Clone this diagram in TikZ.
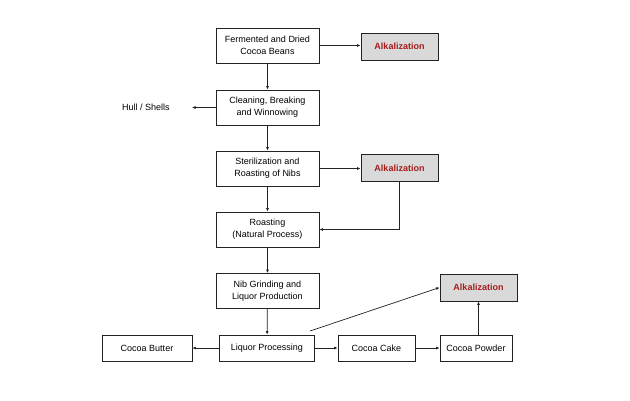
\documentclass[tikz,border=0pt]{standalone}
\usepackage{fontspec}
\setmainfont{Liberation Sans}
\usetikzlibrary{arrows.meta}
\definecolor{alkred}{HTML}{A61C1C}
\definecolor{alkfill}{HTML}{D9D9D9}
\definecolor{linec}{HTML}{222222}
\begin{document}
\begin{tikzpicture}[x=1pt,y=-1pt,
  every node/.style={font=\fontsize{9}{12}\selectfont, align=center, inner sep=0pt},
  proc/.style={draw=linec, line width=0.8pt, fill=white, minimum width=103pt, minimum height=35pt},
  proclow/.style={draw=linec, line width=0.8pt, fill=white, minimum height=26pt},
  alk/.style={draw=linec, line width=0.8pt, fill=alkfill, minimum width=77pt, minimum height=27pt, font=\fontsize{9}{12}\selectfont\bfseries, text=alkred},
  conn/.style={draw=linec, line width=0.7pt, -{Latex[length=3.5pt,width=3pt]}}
]
\useasboundingbox (0,0) rectangle (630,400);
\node[proc] (beans) at (267.5,45.5) {Fermented and Dried\\Cocoa Beans};
\node[alk] (alk1) at (399.5,46.5) {Alkalization};
\node[proc] (clean) at (267.5,107.5) {Cleaning, Breaking\\and Winnowing};
\node (hull) at (146,107.5) {Hull / Shells};
\coordinate (hullend) at (192,107.5);
\node[proc] (ster) at (267.5,168.5) {Sterilization and\\Roasting of Nibs};
\node[alk] (alk2) at (399.5,168) {Alkalization};
\node[proc] (roast) at (267.5,229.5) {Roasting\\(Natural Process)};
\node[proc] (nib) at (267.5,291) {Nib Grinding and\\Liquor Production};
\node[proclow, minimum width=95pt] (liq) at (267,348) {Liquor Processing};
\node[proclow, minimum width=90pt] (butter) at (147,348) {Cocoa Butter};
\node[proclow, minimum width=77pt] (cake) at (376.5,348) {Cocoa Cake};
\node[proclow, minimum width=72pt] (powder) at (476,348) {Cocoa Powder};
\node[alk] (alk3) at (478.5,287.5) {Alkalization};
\coordinate (diagstart) at (310,331);

\draw[conn] (beans.east) -- (beans.east -| alk1.west);
\draw[conn] (beans) -- (clean);
\draw[conn] (clean) -- (hullend);
\draw[conn] (clean) -- (ster);
\draw[conn] (ster.east) -- (ster.east -| alk2.west);
\draw[conn] (ster) -- (roast);
\draw[conn] (alk2.south) |- (roast.east);
\draw[conn] (roast) -- (nib);
\draw[conn] (nib) -- (liq);
\draw[conn] (liq) -- (butter);
\draw[conn] (liq) -- (cake);
\draw[conn] (cake) -- (powder);
\draw[conn] (diagstart) -- (alk3.west);
\draw[conn] (powder.north -| alk3.south) -- (alk3.south);
\end{tikzpicture}
\end{document}
